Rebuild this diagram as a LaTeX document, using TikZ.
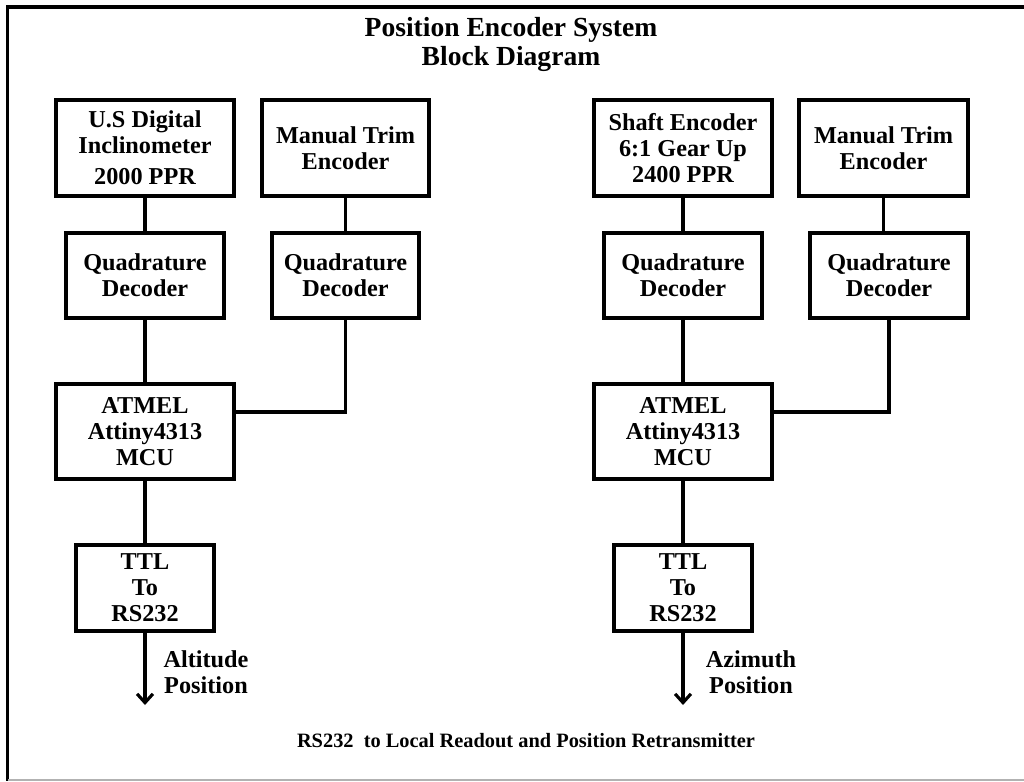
\documentclass[tikz,border=0pt]{standalone}
\usepackage{fontspec}
\setmainfont{Liberation Serif}
\usetikzlibrary{arrows.meta}

\begin{document}
\begin{tikzpicture}[x=0.02cm, y=-0.02cm,
		block/.style={draw, line width=1.8pt, align=center, inner sep=0pt, font=\bfseries\fontsize{13.8}{14.8}\selectfont},
		wire/.style={line width=1.8pt},
		lbl/.style={align=center, font=\bfseries\fontsize{13.8}{14.8}\selectfont}]
	\useasboundingbox (0,0) rectangle (1024,781);
	% page frame
	\draw[line width=1.8pt] (1024,7) -- (7.5,7) -- (7.5,781);
	\draw[gray!60, line width=1pt] (8,780) -- (1024,780);
	\node[font=\bfseries\fontsize{15.7}{16.5}\selectfont, align=center] (title) at (511,44) {Position Encoder System\\Block Diagram};
	% altitude side
	\node[block, minimum width=3.56cm, minimum height=1.92cm] (usd) at (145,148) {U.S Digital\\Inclinometer\\[3pt]2000 PPR};
	\node[block, minimum width=3.34cm, minimum height=1.92cm] (mtl) at (345.5,148) {Manual Trim\\Encoder};
	\node[block, minimum width=3.16cm, minimum height=1.70cm] (ql1) at (145,275.5) {Quadrature\\Decoder};
	\node[block, minimum width=2.94cm, minimum height=1.70cm] (ql2) at (345.5,275.5) {Quadrature\\Decoder};
	\node[block, minimum width=3.56cm, minimum height=1.90cm] (mcul) at (145,431.5) {ATMEL\\Attiny4313\\MCU};
	\node[block, minimum width=2.76cm, minimum height=1.72cm] (ttll) at (145,588) {TTL\\To\\RS232};
	\coordinate (altend) at (145,705);
	\node[lbl] (altlbl) at (206,672) {Altitude\\Position};
	% azimuth side
	\node[block, minimum width=3.56cm, minimum height=1.92cm] (se) at (683,148) {Shaft Encoder\\6:1 Gear Up\\2400 PPR};
	\node[block, minimum width=3.38cm, minimum height=1.92cm] (mtr) at (883.5,148) {Manual Trim\\Encoder};
	\node[block, minimum width=3.16cm, minimum height=1.70cm] (qr1) at (683,275.5) {Quadrature\\Decoder};
	\node[block, minimum width=3.16cm, minimum height=1.70cm] (qr2) at (889,275.5) {Quadrature\\Decoder};
	\node[block, minimum width=3.56cm, minimum height=1.90cm] (mcur) at (683,431.5) {ATMEL\\Attiny4313\\MCU};
	\node[block, minimum width=2.76cm, minimum height=1.72cm] (ttlr) at (683,588) {TTL\\To\\RS232};
	\coordinate (aziend) at (683,705);
	\node[lbl] (azilbl) at (751,672) {Azimuth\\Position};
	% wiring
	\draw[wire] (usd) -- (ql1);
	\draw[wire] (mtl) -- (mtl |- ql2.north);
	\draw[wire] (ql1) -- (mcul);
	\draw[wire] (ql2.south) |- ([yshift=0.39cm]mcul.east);
	\draw[wire] (mcul) -- (ttll);
	\draw[wire, -{Straight Barb[length=5pt, width=9pt]}] (ttll) -- (altend);
	\draw[wire] (se) -- (qr1);
	\draw[wire] (mtr) -- (mtr |- qr2.north);
	\draw[wire] (qr1) -- (mcur);
	\draw[wire] (qr2.south) |- ([yshift=0.39cm]mcur.east);
	\draw[wire] (mcur) -- (ttlr);
	\draw[wire, -{Straight Barb[length=5pt, width=9pt]}] (ttlr) -- (aziend);
	\node[font=\bfseries\fontsize{11.6}{13}\selectfont] (note) at (526,741) {RS232~ to Local Readout and Position Retransmitter};
\end{tikzpicture}
\end{document}
